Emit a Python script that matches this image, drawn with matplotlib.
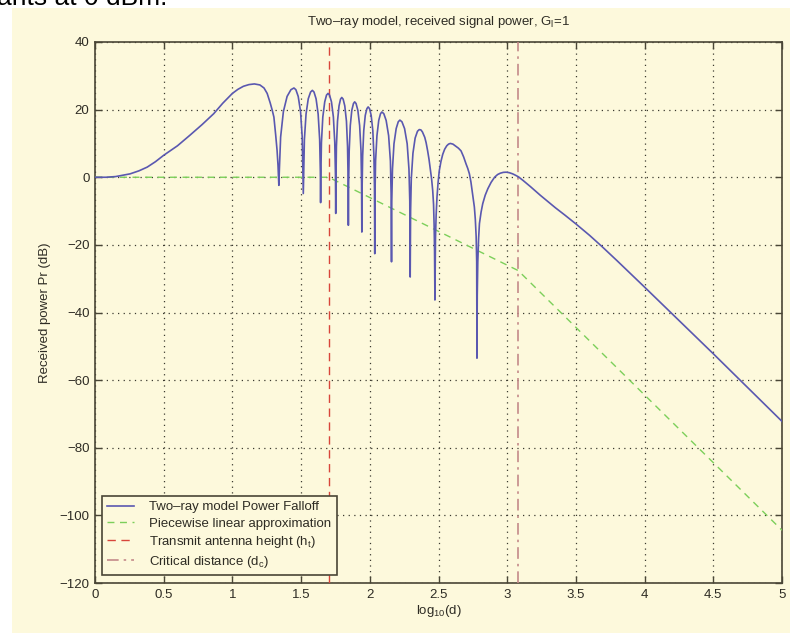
import matplotlib
matplotlib.use("Agg")
import matplotlib.pyplot as plt
from matplotlib.patches import Rectangle

# two-ray received power (x = log10(d), y = dB)
two_ray_x = [
    0.0, 0.08, 0.15, 0.255, 0.32, 0.38, 0.44, 0.5, 0.6, 0.69, 0.78, 0.864, 0.93, 1.0,
    1.04, 1.08, 1.12, 1.16, 1.20, 1.23, 1.253, 1.275, 1.29, 1.302, 1.315, 1.325, 1.332, 1.338,
    1.342, 1.351, 1.371, 1.398, 1.426, 1.448, 1.462, 1.479, 1.496, 1.508, 1.513, 1.516,
    1.519, 1.524, 1.536, 1.552, 1.569, 1.582, 1.594, 1.609, 1.624, 1.635, 1.640, 1.642,
    1.644, 1.648, 1.658, 1.672, 1.685, 1.696, 1.707, 1.721, 1.735, 1.745, 1.750, 1.752,
    1.754, 1.757, 1.765, 1.776, 1.787, 1.796, 1.806, 1.818, 1.830, 1.838, 1.842, 1.844,
    1.846, 1.850, 1.858, 1.869, 1.881, 1.890, 1.900, 1.913, 1.926, 1.936, 1.940, 1.942,
    1.944, 1.948, 1.956, 1.967, 1.979, 1.988, 1.998, 2.010, 2.022, 2.030, 2.034, 2.036,
    2.038, 2.042, 2.052, 2.065, 2.078, 2.088, 2.102, 2.119, 2.137, 2.150, 2.155, 2.158,
    2.160, 2.165, 2.176, 2.192, 2.207, 2.219, 2.234, 2.253, 2.272, 2.285, 2.291, 2.294,
    2.297, 2.302, 2.314, 2.330, 2.347, 2.360, 2.372, 2.383, 2.400, 2.410, 2.421, 2.431,
    2.440, 2.450, 2.458, 2.464, 2.468, 2.471, 2.474,
    2.476, 2.478, 2.483, 2.489, 2.497, 2.506, 2.518, 2.531, 2.545, 2.560, 2.573, 2.586,
    2.605, 2.625, 2.645, 2.664, 2.683, 2.700, 2.713, 2.725, 2.736, 2.745, 2.754, 2.761,
    2.768, 2.774, 2.778, 2.780,
    2.782, 2.786, 2.792, 2.798, 2.810, 2.822, 2.840, 2.859, 2.883, 2.908, 2.930, 2.950,
    2.972, 2.993, 3.015, 3.040, 3.060, 3.083, 3.120, 3.170, 3.240, 3.300, 3.350, 3.420,
    3.500, 3.600, 3.690, 3.800, 3.900, 4.000, 4.190, 4.500, 4.690, 5.000,
]
two_ray_y = [
    0.0, 0.0, 0.2, 1.0, 1.9, 3.0, 4.6, 6.5, 9.3, 12.4, 15.6, 18.8, 21.9, 24.8,
    26.0, 26.9, 27.4, 27.6, 27.3, 26.4, 24.8, 22.0, 19.8, 17.8, 12.5, 8.0, 3.5, -2.4,
    2.4, 11.9, 19.4, 23.9, 25.9, 26.4, 25.9, 23.9, 19.4, 11.9, 2.4, -4.8,
    1.7, 11.2, 18.7, 23.2, 25.2, 25.7, 25.2, 23.2, 18.7, 11.2, 1.7, -7.5,
    0.8, 10.3, 17.8, 22.3, 24.3, 24.8, 24.3, 22.3, 17.8, 10.3, 0.8, -10.7,
    -0.4, 9.1, 16.6, 21.1, 23.1, 23.6, 23.1, 21.1, 16.6, 9.1, -0.4, -14.2,
    -1.7, 7.8, 15.3, 19.8, 21.8, 22.3, 21.8, 19.8, 15.3, 7.8, -1.7, -16.2,
    -3.2, 6.3, 13.8, 18.3, 20.3, 20.8, 20.3, 18.3, 13.8, 6.3, -3.2, -22.6,
    -4.7, 4.8, 12.3, 16.8, 18.8, 19.3, 18.8, 16.8, 12.3, 4.8, -4.7, -25.0,
    -7.1, 2.4, 9.9, 14.4, 16.4, 16.9, 16.4, 14.4, 9.9, 2.4, -7.1, -29.5,
    -9.9, -0.4, 7.1, 11.6, 13.6, 14.1, 14.0, 13.4, 11.8, 10.2, 7.8, 5.3,
    2.5, -0.6, -4.0, -8.0, -14.0, -21.0, -36.3,
    -26.0, -18.0, -11.0, -5.9, -1.5, 2.0, 4.7, 6.8, 8.3, 9.3, 9.8, 10.0,
    9.8, 9.2, 8.6, 7.8, 6.0, 4.0, 2.6, 1.0, -1.4, -4.0, -6.5, -8.8,
    -12.5, -17.5, -25.0, -53.5,
    -35.0, -25.0, -18.0, -13.7, -10.3, -7.8, -5.3, -3.4, -1.5, 0.0, 0.8, 1.2,
    1.45, 1.5, 1.35, 1.0, 0.6, 0.1, -1.1, -2.8, -5.3, -7.3, -9.0, -11.2,
    -13.8, -17.2, -20.5, -24.7, -28.6, -32.5, -40.0, -52.2, -59.8, -72.2,
]

# piecewise linear approximation
approx_x = [0.0, 1.70, 3.08, 5.0]
approx_y = [0.0, 0.0, -27.6, -104.4]

log_ht = 1.70
log_dc = 3.08

x_ticks = [0, 0.5, 1, 1.5, 2, 2.5, 3, 3.5, 4, 4.5, 5]
x_tick_labels = ["0", "0.5", "1", "1.5", "2", "2.5", "3", "3.5", "4", "4.5", "5"]
y_ticks = [-120, -100, -80, -60, -40, -20, 0, 20, 40]

legend_labels = [
    "Two\u2013ray model Power Falloff",
    "Piecewise linear approximation",
    "Transmit antenna height (h$_t$)",
    "Critical distance (d$_c$)",
]

plt.rcParams["font.family"] = ["Liberation Sans", "DejaVu Sans"]
plt.rcParams["mathtext.fontset"] = "custom"
plt.rcParams["mathtext.rm"] = "Liberation Sans"
plt.rcParams["mathtext.it"] = "Liberation Sans"

cream = "#fdf9dc"
axis_col = "#4a4636"
text_col = "#2e2c24"

fig = plt.figure(figsize=(7.92, 6.33), dpi=100, facecolor="white")
fig.patches.append(Rectangle((12 / 792, 0), (790 - 12) / 792, 1 - 8 / 633,
                             transform=fig.transFigure, facecolor=cream,
                             edgecolor="none", zorder=-10))
# caption fragment cut off at the top edge, as in the reference
fig.text(-0.004, 1 - 5 / 633, "ants at 0 dBm.", fontsize=19, color="black",
         va="baseline", ha="left")

ax = fig.add_axes([95 / 792, 1 - 583 / 633, (782 - 95) / 792, (583 - 42) / 633])
ax.set_facecolor(cream)

l1, = ax.plot(two_ray_x, two_ray_y, color="#5a58b0", lw=1.2, zorder=4)
l2, = ax.plot(approx_x, approx_y, color="#7ccf5a", lw=1.0, ls=(0, (5, 4)), zorder=3)
l3 = ax.axvline(log_ht, color="#d8453a", lw=1.0, ls=(0, (6, 4)), zorder=3)
l4 = ax.axvline(log_dc, color="#c48a8a", lw=1.2, ls=(0, (7, 3, 1.5, 3)), zorder=3)

ax.set_xlim(0, 5)
ax.set_ylim(-120, 40)
ax.set_xticks(x_ticks)
ax.set_xticklabels(x_tick_labels)
ax.set_yticks(y_ticks)
ax.grid(True, color="#3c3a30", ls=(0, (1, 3.5)), lw=0.9)
ax.tick_params(direction="in", length=5, width=1, top=True, right=True,
               labelsize=9.5, colors=axis_col, labelcolor=text_col, pad=4)
for s in ax.spines.values():
    s.set_color(axis_col)
    s.set_linewidth(1.2)

ax.set_title("Two\u2013ray model, received signal power, G$_l$=1", fontsize=9.5,
             color=text_col, pad=12)
ax.set_xlabel("log$_{10}$(d)", fontsize=9.5, color=text_col, labelpad=2)
ax.set_ylabel("Received power Pr (dB)", fontsize=9.5, color=text_col, labelpad=6)

leg = ax.legend([l1, l2, l3, l4], legend_labels, loc="lower left",
                bbox_to_anchor=(0.010, 0.015), borderaxespad=0, fontsize=9.5,
                handlelength=2.0, handletextpad=1.2, labelspacing=0.3,
                borderpad=0.4, fancybox=False, framealpha=1)
leg.get_frame().set_facecolor(cream)
leg.get_frame().set_edgecolor(axis_col)
leg.get_frame().set_linewidth(1.2)
for t in leg.get_texts():
    t.set_color(text_col)

fig.savefig("out.png", dpi=100, facecolor=fig.get_facecolor())
